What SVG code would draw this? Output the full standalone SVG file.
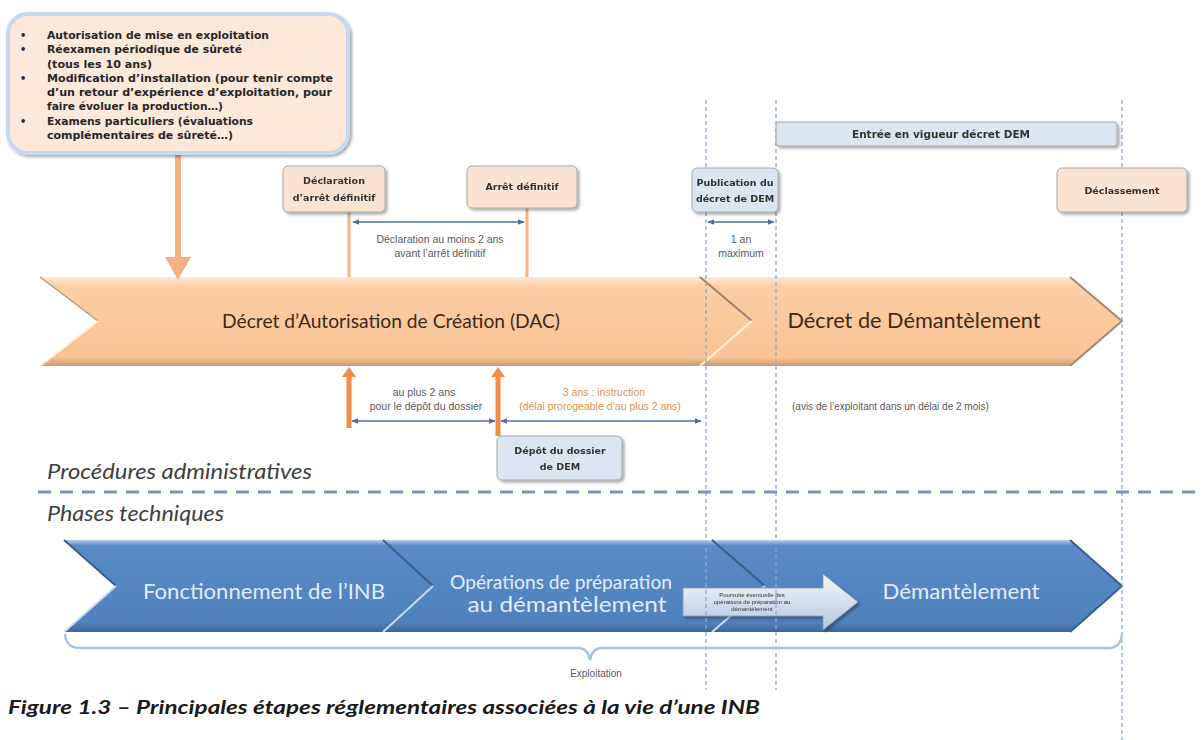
<svg xmlns="http://www.w3.org/2000/svg" width="1202" height="740" viewBox="0 0 1202 740">
<style>
text{font-family:"Liberation Sans",Arial,sans-serif}
.box{stroke:#a6a6a6;stroke-width:1}
.peach{fill:#fbe3d1}
.bluebox{fill:#dce6f2}
.bt{font-family:"DejaVu Sans",Verdana,sans-serif;font-size:9.5px;font-weight:bold;fill:#333;text-anchor:middle}
.note{font-size:10.5px;fill:#595959;text-anchor:middle}
.onote{font-size:10.5px;fill:#e2904f;text-anchor:middle}
.vdash{stroke:#8ea9c8;stroke-width:1.3;stroke-dasharray:4 3;fill:none}
.dbl{stroke:#4f6fa0;stroke-width:1.5;fill:none;marker-start:url(#ah);marker-end:url(#ah)}
.ct{font-family:"DejaVu Sans",Verdana,sans-serif;font-size:9.8px;fill:#262626;font-weight:bold}
.big{font-family:Lato,"Liberation Sans",sans-serif;fill:#3b2a1a;text-anchor:middle}
.wt{font-family:Lato,"Liberation Sans",sans-serif;fill:#e3ecf7;text-anchor:middle}
.sec{font-family:Lato,"Liberation Sans",sans-serif;font-size:21px;font-style:italic;fill:#404040}
.cap{font-family:Lato,"Liberation Sans",sans-serif;font-size:18px;font-style:italic;font-weight:bold;fill:#1a1a1a}
</style>
<defs>
<filter id="sh" x="-10%" y="-10%" width="130%" height="140%">
<feDropShadow dx="2" dy="2" stdDeviation="1.8" flood-color="#000" flood-opacity="0.35"/>
</filter>
<linearGradient id="og" x1="0" y1="0" x2="0" y2="1">
<stop offset="0" stop-color="#fde9d9"/>
<stop offset="0.1" stop-color="#fbcfa6"/>
<stop offset="0.9" stop-color="#f9c393"/>
<stop offset="1" stop-color="#c89a78"/>
</linearGradient>
<linearGradient id="bg" x1="0" y1="0" x2="0" y2="1">
<stop offset="0" stop-color="#b9cde8"/>
<stop offset="0.06" stop-color="#5a8bc8"/>
<stop offset="0.9" stop-color="#4f81bd"/>
<stop offset="1" stop-color="#3d6596"/>
</linearGradient>
<linearGradient id="sg" x1="0" y1="0" x2="0" y2="1">
<stop offset="0" stop-color="#f4f7fb"/>
<stop offset="1" stop-color="#b4c6df"/>
</linearGradient>
<marker id="ah" viewBox="0 0 10 10" refX="9" refY="5" markerWidth="7" markerHeight="7" orient="auto-start-reverse" markerUnits="userSpaceOnUse">
<path d="M0,1 L10,5 L0,9 z" fill="#4f6fa0"/>
</marker>
</defs>

<g id="phases-bg">
<polygon id="arrow-dem" points="700,277 1070,277 1122,321 1070,366 700,366 752,321" fill="url(#og)"/>
<polygon id="arrow-dac" points="40,277 700,277 752,321 700,366 40,366 98,321" fill="url(#og)"/>
<path d="M700,277 L752,321" stroke="#9c8070" stroke-width="2" fill="none"/>
<path d="M752,321 L700,366" stroke="#fff6df" stroke-width="2" fill="none"/>
<path d="M1070,277 L1122,321 L1070,366" stroke="#a28878" stroke-width="2" fill="none"/>
<path d="M40,277 L98,321" stroke="#b59a88" stroke-width="1.5" fill="none"/>
<path d="M98,321 L40,366" stroke="#fff3dc" stroke-width="2" fill="none"/>
<text class="big" x="391" y="328" font-size="19" textLength="338" lengthAdjust="spacingAndGlyphs">Décret d’Autorisation de Création  (DAC)</text>
<text class="big" x="914" y="328" font-size="21" textLength="253" lengthAdjust="spacingAndGlyphs">Décret de Démantèlement</text>
</g>

<g id="tech-phases">
<polygon id="b3" points="712,540 1070,540 1122,586 1070,632 712,632 765,586" fill="url(#bg)"/>
<polygon id="b2" points="383,540 712,540 765,586 712,632 383,632 433,586" fill="url(#bg)"/>
<polygon id="b1" points="64,540 383,540 433,586 383,632 64,632 116,586" fill="url(#bg)"/>
<path d="M383,540 L433,586 M712,540 L765,586 M1070,540 L1122,586 L1070,632 M64,540 L116,586" stroke="#3b5f8c" stroke-width="2" fill="none"/>
<path d="M433,586 L383,632 M765,586 L712,632 M116,586 L64,632" stroke="#c9dcf2" stroke-width="2" fill="none"/>
<text class="wt" x="264" y="599" font-size="21" textLength="242" lengthAdjust="spacingAndGlyphs">Fonctionnement de l’INB</text>
<text class="wt" x="561" y="589" font-size="20" textLength="222" lengthAdjust="spacingAndGlyphs">Opérations de préparation</text>
<text class="wt" x="567" y="612" font-size="21" textLength="199" lengthAdjust="spacingAndGlyphs">au démantèlement</text>
<text class="wt" x="961" y="599" font-size="21" textLength="157" lengthAdjust="spacingAndGlyphs">Démantèlement</text>
</g>

<g id="poursuite" filter="url(#sh)">
<polygon points="683,588 823,588 823,574 858,602 823,630 823,616 683,616" fill="url(#sg)" stroke="#8597b0" stroke-width="0.8"/>
<text x="752" y="597" font-size="6" fill="#333" text-anchor="middle">Poursuite éventuelle des</text>
<text x="752" y="604" font-size="6" fill="#333" text-anchor="middle">opérations de préparation au</text>
<text x="752" y="611" font-size="6" fill="#333" text-anchor="middle">démantèlement</text>
</g>

<g id="connectors">
<line class="vdash" x1="706" y1="100" x2="706" y2="690"/>
<line class="vdash" x1="776" y1="100" x2="776" y2="690"/>
<line class="vdash" x1="1122" y1="100" x2="1122" y2="740"/>
<line x1="38" y1="492" x2="1202" y2="492" stroke="#7f93b5" stroke-width="3" stroke-dasharray="13 9"/>
<line x1="349" y1="212" x2="349" y2="277" stroke="#f4b183" stroke-width="3"/>
<line x1="527" y1="208" x2="527" y2="277" stroke="#f4b183" stroke-width="3"/>
<line x1="349" y1="428" x2="349" y2="376" stroke="#f08e45" stroke-width="5"/>
<polygon points="342,377 356,377 349,367" fill="#f08e45"/>
<line x1="498" y1="436" x2="498" y2="376" stroke="#f08e45" stroke-width="5"/>
<polygon points="491,377 505,377 498,367" fill="#f08e45"/>
<line class="dbl" x1="353" y1="222" x2="524" y2="222"/>
<line class="dbl" x1="708" y1="222" x2="774" y2="222"/>
<line class="dbl" x1="352" y1="421" x2="495" y2="421"/>
<line class="dbl" x1="501" y1="421" x2="701" y2="421"/>
<line x1="178" y1="153" x2="178" y2="260" stroke="#f4b183" stroke-width="6"/>
<polygon points="165,257 191,257 178,280" fill="#f4b183"/>
<path d="M65,634 Q66,648 80,648 L578,648 Q588,648 590,660 Q592,648 602,648 L1108,648 Q1121,648 1122,634" stroke="#a5c5e0" stroke-width="2.5" fill="none"/>
</g>

<g id="callout">
<rect x="8" y="14" width="340" height="139" rx="20" fill="#fde9d9" stroke="#c6d9f1" stroke-width="4" filter="url(#sh)"/>
<text class="ct" x="20" y="39">•</text>
<text class="ct" x="47" y="39" textLength="222" lengthAdjust="spacingAndGlyphs">Autorisation de mise en exploitation</text>
<text class="ct" x="20" y="53">•</text>
<text class="ct" x="47" y="53" textLength="195" lengthAdjust="spacingAndGlyphs">Réexamen périodique de sûreté</text>
<text class="ct" x="47" y="68" textLength="105" lengthAdjust="spacingAndGlyphs">(tous les 10 ans)</text>
<text class="ct" x="20" y="82">•</text>
<text class="ct" x="47" y="82" textLength="286" lengthAdjust="spacingAndGlyphs">Modification d’installation (pour tenir compte</text>
<text class="ct" x="47" y="96" textLength="285" lengthAdjust="spacingAndGlyphs">d’un retour d’expérience d’exploitation, pour</text>
<text class="ct" x="47" y="110" textLength="176" lengthAdjust="spacingAndGlyphs">faire évoluer la production…)</text>
<text class="ct" x="20" y="125">•</text>
<text class="ct" x="47" y="125" textLength="206" lengthAdjust="spacingAndGlyphs">Examens particuliers (évaluations</text>
<text class="ct" x="47" y="139" textLength="186" lengthAdjust="spacingAndGlyphs">complémentaires de sûreté…)</text>
</g>

<g id="declaration" filter="url(#sh)">
<rect class="box peach" x="283" y="166" width="102" height="46" rx="5"/>
<text class="bt" x="334" y="184">Déclaration</text>
<text class="bt" x="334" y="201">d’arrêt définitif</text>
</g>
<g id="arret" filter="url(#sh)">
<rect class="box peach" x="467" y="166" width="110" height="42" rx="5"/>
<text class="bt" x="522" y="190">Arrêt définitif</text>
</g>
<g id="publication" filter="url(#sh)">
<rect class="box bluebox" x="692" y="168" width="86" height="44" rx="5"/>
<text class="bt" x="735" y="186">Publication du</text>
<text class="bt" x="735" y="202">décret de DEM</text>
</g>
<g id="entree" filter="url(#sh)">
<rect class="box bluebox" x="776" y="122" width="341" height="24" rx="3"/>
<text class="bt" x="941" y="138" style="font-size:10.5px">Entrée en vigueur décret DEM</text>
</g>
<g id="declassement" filter="url(#sh)">
<rect class="box peach" x="1057" y="168" width="130" height="44" rx="5"/>
<text class="bt" x="1122" y="194">Déclassement</text>
</g>
<g id="depot" filter="url(#sh)">
<rect class="box bluebox" x="497" y="436" width="125" height="44" rx="5"/>
<text class="bt" x="560" y="454">Dépôt du dossier</text>
<text class="bt" x="560" y="470">de DEM</text>
</g>

<g id="labels">
<text class="note" x="440" y="243">Déclaration au moins  2 ans</text>
<text class="note" x="440" y="257">avant l’arrêt définitif</text>
<text class="note" x="741" y="243">1 an</text>
<text class="note" x="741" y="257">maximum</text>
<text class="note" x="424" y="396">au plus  2 ans</text>
<text class="note" x="426" y="410">pour le dépôt du dossier</text>
<text class="onote" x="604" y="396">3 ans  : instruction</text>
<text class="onote" x="600" y="410">(délai prorogeable d’au plus 2 ans)</text>
<text x="792" y="410" font-size="10" fill="#595959">(avis de l’exploitant dans un délai  de 2 mois)</text>
<text class="sec" x="47" y="479" textLength="265" lengthAdjust="spacingAndGlyphs">Procédures administratives</text>
<text class="sec" x="47" y="521" textLength="177" lengthAdjust="spacingAndGlyphs">Phases techniques</text>
<text x="596" y="677" font-size="10" fill="#595959" text-anchor="middle">Exploitation</text>
<text class="cap" x="8" y="714" textLength="752" lengthAdjust="spacingAndGlyphs">Figure 1.3 – Principales étapes réglementaires associées à la vie d’une INB</text>
</g>
</svg>
